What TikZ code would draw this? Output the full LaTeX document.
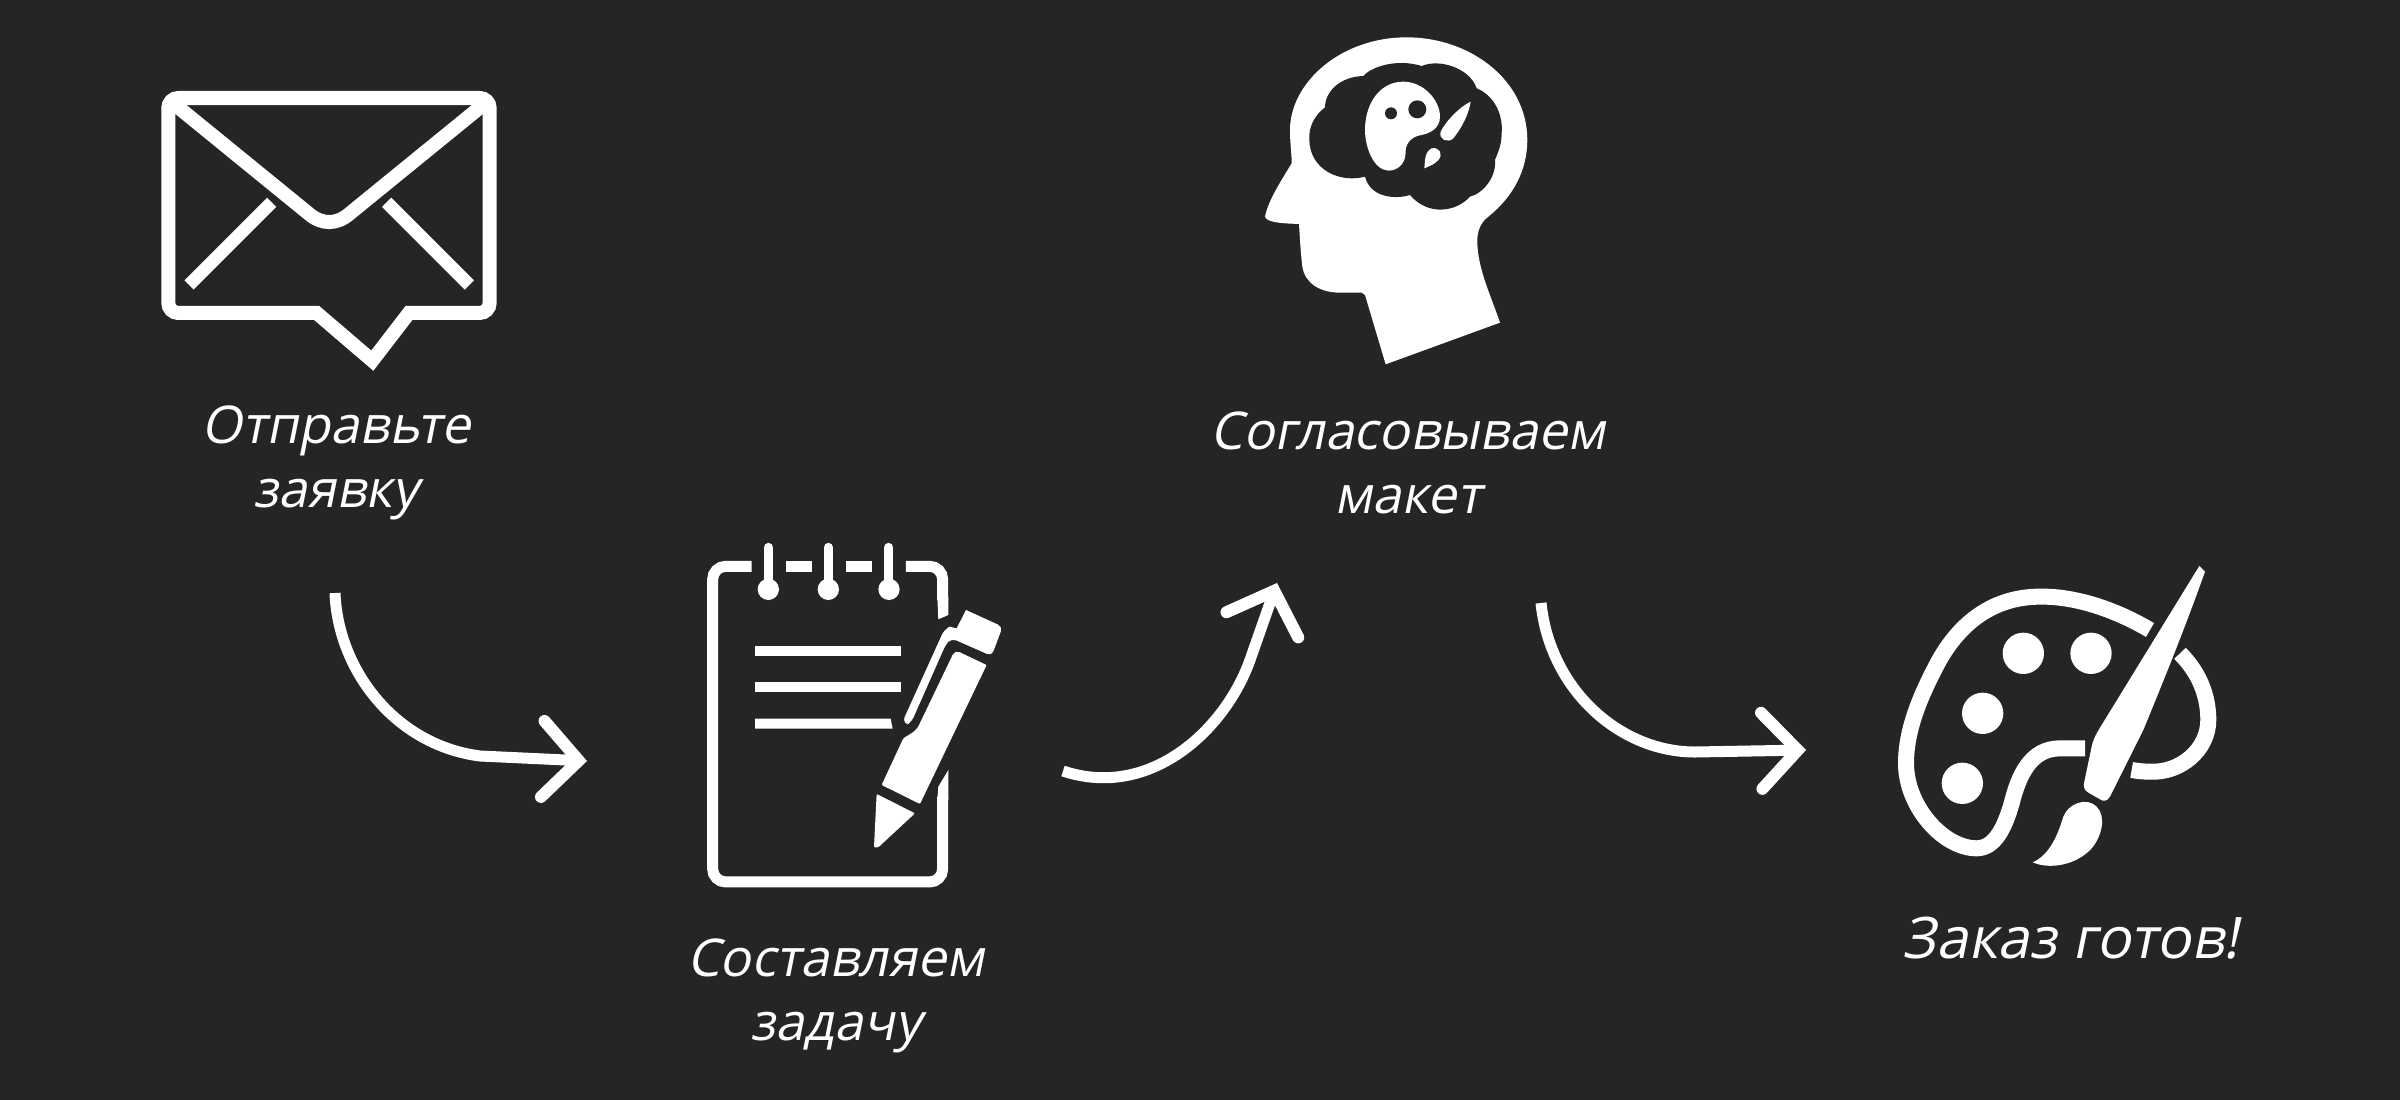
\documentclass[tikz,border=0pt]{standalone}
\usepackage{fontspec}
\newfontfamily\stagefont[FakeSlant=0.2]{Open Sans}
\usetikzlibrary{arrows.meta}
\definecolor{pagebg}{HTML}{252527}
\tikzset{
    stagelabel/.style={text=white, align=center, inner sep=0pt, font=\stagefont\fontsize{14.8}{18.2}\selectfont},
    flow/.style={draw=white, line width=1.1mm},
    iconfill/.style={fill=white, draw=none},
    iconstroke/.style={draw=white, line width=#1}
}
\begin{document}
\begin{tikzpicture}[x=0.01cm, y=-0.01cm, >={Straight Barb[length=3.6mm, width=7.6mm, line width=1.2mm, line cap=round, line join=miter]}]
    \useasboundingbox (0,0) rectangle (2400,1100);
    \fill [pagebg] (0,0) rectangle (2400,1100);

    % Labels
    \node [stagelabel] (send) at (336,463) {Отправьте \\ заявку};
    \node [stagelabel] (task) at (836,996) {Составляем \\ задачу};
    \node [stagelabel] (mockup) at (1408,463) {Согласовываем \\ макет};
    \node [stagelabel, font=\stagefont\fontsize{16.3}{18.2}\selectfont] (ready) at (2071,938) {Заказ готов!};

    % Envelope
    \begin{scope}[shift={(140,70)}, scale=0.3333]
        \draw [iconstroke=1.4mm] (807,729) [rounded corners=1mm] -- (1049,729) -- (1049,84) -- (85,84) -- (85,729) [sharp corners] -- (530,729) -- (697,872) -- cycle;
        \draw [iconstroke=1.4mm] (100,100) -- (505,430) .. controls (545,465) and (590,465) .. (630,430) -- (1035,100);
        \draw [iconstroke=1.3mm] (395,397) -- (147,645);
        \draw [iconstroke=1.3mm] (740,397) -- (988,645);
    \end{scope}

    % Notepad
    \begin{scope}[shift={(690,530)}, scale=0.3333]
        \draw [iconstroke=1.1mm, rounded corners=1.3mm] (185,109) -- (68,109) -- (68,1056) -- (758,1056) -- (758,800);
        \draw [iconstroke=1.1mm, rounded corners=1.3mm] (648,109) -- (758,109) -- (758,210);
        \fill [iconfill] (742,200) -- (775,200) -- (775,255) -- (745,268) -- cycle;
        \fill [iconfill] (775,720) -- (775,810) -- (742,810) -- (745,770) -- cycle;
        \draw [iconstroke=1.1mm] (287,109) -- (365,109);
        \draw [iconstroke=1.1mm] (467,109) -- (547,109);
        \foreach \ringx in {235,415,597} {
            \draw [iconstroke=0.9mm, line cap=round] (\ringx,52) -- (\ringx,170);
            \fill [iconfill] (\ringx,178) circle (32);
        }
        \foreach \liney in {362,471} {
            \draw [iconstroke=1mm] (195,\liney) -- (633,\liney);
        }
        \fill [iconfill] (195,566) -- (602,566) -- (608,596) -- (195,596) -- cycle;
        \fill [iconfill, rounded corners=0.5mm] (828,240) -- (938,290) -- (905,378) -- (785,325) -- (768,342) -- (665,575) [rounded corners=0.3mm] -- (650,585) -- (640,570) -- (760,305) [sharp corners] -- (778,290) -- (800,295) -- cycle;
        \fill [iconfill, rounded corners=0.1mm] (795,360) -- (890,405) -- (690,822) -- (575,765) -- (640,625) [rounded corners=0.5mm] -- (680,600) -- cycle;
        \fill [iconfill, rounded corners=0.1mm] (560,792) -- (675,850) -- (565,952) -- (552,952) -- cycle;
    \end{scope}

    % Head
    \begin{scope}[shift={(1240,20)}, scale=0.3333]
        \fill [iconfill] (437,1033) -- (780,908) .. controls (750,820) and (715,750) .. (712,670) .. controls (710,630) and (725,605) .. (745,590) .. controls (820,530) and (862,450) .. (862,360) .. controls (862,180) and (690,52) .. (500,52) .. controls (300,52) and (150,190) .. (150,330) .. controls (150,370) and (155,400) .. (155,430) .. controls (125,480) and (85,540) .. (75,590) .. controls (80,605) and (110,610) .. (177,612) .. controls (180,660) and (182,700) .. (187,740) .. controls (195,790) and (240,818) .. (300,818) -- (365,818) -- (375,825) -- cycle;
        \fill [pagebg] (208,360) .. controls (205,320) and (225,285) .. (255,262) .. controls (255,215) and (300,170) .. (370,168) .. controls (395,140) and (470,115) .. (545,138) .. controls (600,115) and (690,145) .. (710,205) .. controls (760,225) and (790,280) .. (785,340) .. controls (785,380) and (770,405) .. (765,420) .. controls (770,470) and (730,520) .. (690,530) .. controls (650,575) and (565,590) .. (510,525) .. controls (460,540) and (390,530) .. (375,470) .. controls (300,490) and (210,450) .. (208,360) -- cycle;
        \fill [iconfill] (375,330) .. controls (375,250) and (420,185) .. (490,185) .. controls (550,185) and (600,240) .. (600,290) .. controls (600,325) and (570,340) .. (545,345) .. controls (510,350) and (495,375) .. (497,400) .. controls (495,435) and (470,452) .. (445,452) .. controls (400,450) and (375,380) .. (375,330) -- cycle;
        \fill [pagebg] (453,280) circle (18);
        \fill [pagebg] (532,268) circle (27);
        \fill [iconfill] (692,245) .. controls (685,290) and (660,330) .. (640,355) .. controls (625,370) and (595,360) .. (602,335) .. controls (620,300) and (660,260) .. (692,245) -- cycle;
        \fill [iconfill] (553,445) .. controls (555,420) and (555,395) .. (575,385) .. controls (600,380) and (610,405) .. (595,420) .. controls (585,432) and (570,438) .. (553,445) -- cycle;
    \end{scope}

    % Palette
    \begin{scope}[shift={(1880,550)}, scale=0.3333]
        \draw [iconstroke=1.6mm] (810,240) .. controls (700,175) and (580,138) .. (480,140) .. controls (330,140) and (230,230) .. (170,345) .. controls (120,440) and (78,540) .. (78,640) .. controls (78,770) and (190,895) .. (290,895) .. controls (345,895) and (375,830) .. (395,760) .. controls (415,680) and (450,595) .. (540,595) -- (615,595);
        \draw [iconstroke=1.6mm] (900,310) .. controls (960,370) and (985,440) .. (985,510) .. controls (985,600) and (900,670) .. (810,665) .. controls (790,665) and (770,663) .. (755,660);
        \foreach \dotx/\doty in {430/310, 633/310, 308/490, 247/700} {
            \fill [iconfill] (\dotx,\doty) circle (62);
        }
        \fill [iconfill] (958,48) -- (975,65) .. controls (920,220) and (860,370) .. (790,540) -- (690,740) .. controls (680,755) and (670,755) .. (660,748) -- (625,728) .. controls (610,720) and (610,705) .. (613,695) -- (635,590) .. controls (640,565) and (650,550) .. (665,525) -- cycle;
        \fill [iconfill] (550,800) .. controls (565,760) and (620,740) .. (650,770) .. controls (680,800) and (665,860) .. (635,895) .. controls (590,945) and (510,960) .. (458,937) .. controls (510,915) and (535,850) .. (550,800) -- cycle;
    \end{scope}

    % Connections between steps
    \coordinate (sendout) at (335,593);
    \coordinate (taskin) at (587,761);
    \coordinate (taskout) at (1063,771);
    \coordinate (mockupin) at (1277,583);
    \coordinate (mockupout) at (1541,603);
    \coordinate (readyin) at (1806,750);
    \draw [flow, ->] (sendout) .. controls (338,670) and (395,745) .. (480,756) -- (taskin);
    \draw [flow, ->] (taskout) .. controls (1150,800) and (1225,730) .. (1250,660) -- (mockupin);
    \draw [flow, ->] (mockupout) .. controls (1550,690) and (1620,752) .. (1695,752) -- (readyin);
\end{tikzpicture}
\end{document}
